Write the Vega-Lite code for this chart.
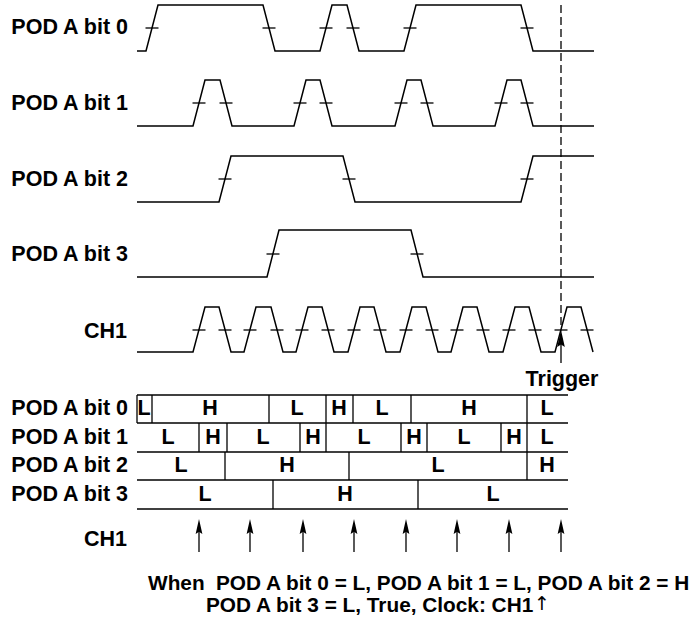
{
  "$schema": "https://vega.github.io/schema/vega-lite/v6.json",
  "width": 698,
  "height": 625,
  "padding": 0,
  "autosize": {"type": "none"},
  "background": "white",
  "config": {"view": {"stroke": null}},
  "datasets": {
    "waves": [
      {"sig": "b0", "t": 137, "v": 51}, {"sig": "b0", "t": 146, "v": 51}, {"sig": "b0", "t": 158, "v": 5}, {"sig": "b0", "t": 263, "v": 5}, {"sig": "b0", "t": 275, "v": 51}, {"sig": "b0", "t": 320, "v": 51}, {"sig": "b0", "t": 332, "v": 5}, {"sig": "b0", "t": 347, "v": 5}, {"sig": "b0", "t": 359, "v": 51}, {"sig": "b0", "t": 404, "v": 51}, {"sig": "b0", "t": 416, "v": 5}, {"sig": "b0", "t": 521, "v": 5}, {"sig": "b0", "t": 533, "v": 51}, {"sig": "b0", "t": 594, "v": 51},
      {"sig": "b1", "t": 137, "v": 126}, {"sig": "b1", "t": 193, "v": 126}, {"sig": "b1", "t": 205, "v": 80}, {"sig": "b1", "t": 220, "v": 80}, {"sig": "b1", "t": 232, "v": 126}, {"sig": "b1", "t": 294, "v": 126}, {"sig": "b1", "t": 306, "v": 80}, {"sig": "b1", "t": 320, "v": 80}, {"sig": "b1", "t": 332, "v": 126}, {"sig": "b1", "t": 395, "v": 126}, {"sig": "b1", "t": 407, "v": 80}, {"sig": "b1", "t": 421, "v": 80}, {"sig": "b1", "t": 433, "v": 126}, {"sig": "b1", "t": 495, "v": 126}, {"sig": "b1", "t": 507, "v": 80}, {"sig": "b1", "t": 521, "v": 80}, {"sig": "b1", "t": 533, "v": 126}, {"sig": "b1", "t": 594, "v": 126},
      {"sig": "b2", "t": 137, "v": 202}, {"sig": "b2", "t": 219, "v": 202}, {"sig": "b2", "t": 231, "v": 156}, {"sig": "b2", "t": 343, "v": 156}, {"sig": "b2", "t": 355, "v": 202}, {"sig": "b2", "t": 521, "v": 202}, {"sig": "b2", "t": 533, "v": 156}, {"sig": "b2", "t": 594, "v": 156},
      {"sig": "b3", "t": 137, "v": 277}, {"sig": "b3", "t": 267, "v": 277}, {"sig": "b3", "t": 279, "v": 230}, {"sig": "b3", "t": 411, "v": 230}, {"sig": "b3", "t": 423, "v": 277}, {"sig": "b3", "t": 594, "v": 277},
      {"sig": "ch", "t": 137, "v": 352}, {"sig": "ch", "t": 193, "v": 352}, {"sig": "ch", "t": 205, "v": 307}, {"sig": "ch", "t": 219, "v": 307}, {"sig": "ch", "t": 231, "v": 352}, {"sig": "ch", "t": 244, "v": 352}, {"sig": "ch", "t": 256, "v": 307}, {"sig": "ch", "t": 271, "v": 307}, {"sig": "ch", "t": 283, "v": 352}, {"sig": "ch", "t": 296, "v": 352}, {"sig": "ch", "t": 308, "v": 307}, {"sig": "ch", "t": 322, "v": 307}, {"sig": "ch", "t": 334, "v": 352}, {"sig": "ch", "t": 348, "v": 352}, {"sig": "ch", "t": 360, "v": 307}, {"sig": "ch", "t": 374, "v": 307}, {"sig": "ch", "t": 386, "v": 352}, {"sig": "ch", "t": 400, "v": 352}, {"sig": "ch", "t": 412, "v": 307}, {"sig": "ch", "t": 426, "v": 307}, {"sig": "ch", "t": 438, "v": 352}, {"sig": "ch", "t": 451, "v": 352}, {"sig": "ch", "t": 463, "v": 307}, {"sig": "ch", "t": 477, "v": 307}, {"sig": "ch", "t": 489, "v": 352}, {"sig": "ch", "t": 503, "v": 352}, {"sig": "ch", "t": 515, "v": 307}, {"sig": "ch", "t": 529, "v": 307}, {"sig": "ch", "t": 541, "v": 352}, {"sig": "ch", "t": 555, "v": 352}, {"sig": "ch", "t": 567, "v": 307}, {"sig": "ch", "t": 581, "v": 307}, {"sig": "ch", "t": 593, "v": 352}
    ],
    "ticks": [
      {"t": 152, "v": 28}, {"t": 269, "v": 28}, {"t": 326, "v": 28}, {"t": 353, "v": 28}, {"t": 410, "v": 28}, {"t": 527, "v": 28},
      {"t": 199, "v": 103}, {"t": 226, "v": 103}, {"t": 300, "v": 103}, {"t": 326, "v": 103}, {"t": 401, "v": 103}, {"t": 427, "v": 103}, {"t": 501, "v": 103}, {"t": 527, "v": 103},
      {"t": 225, "v": 179}, {"t": 349, "v": 179}, {"t": 527, "v": 179},
      {"t": 273, "v": 254}, {"t": 417, "v": 254},
      {"t": 199, "v": 330}, {"t": 225, "v": 330}, {"t": 250, "v": 330}, {"t": 277, "v": 330}, {"t": 302, "v": 330}, {"t": 328, "v": 330}, {"t": 354, "v": 330}, {"t": 380, "v": 330}, {"t": 406, "v": 330}, {"t": 432, "v": 330}, {"t": 457, "v": 330}, {"t": 483, "v": 330}, {"t": 509, "v": 330}, {"t": 535, "v": 330}, {"t": 561, "v": 330}, {"t": 587, "v": 330}
    ],
    "hlines": [
      {"x1": 137, "x2": 568, "y": 395}, {"x1": 137, "x2": 568, "y": 423}, {"x1": 137, "x2": 568, "y": 452}, {"x1": 137, "x2": 568, "y": 480}, {"x1": 137, "x2": 568, "y": 509}
    ],
    "vlines": [
      {"x": 137, "y1": 395, "y2": 423}, {"x": 152, "y1": 395, "y2": 423}, {"x": 269, "y1": 395, "y2": 423}, {"x": 326, "y1": 395, "y2": 423}, {"x": 353, "y1": 395, "y2": 423}, {"x": 411, "y1": 395, "y2": 423}, {"x": 527, "y1": 395, "y2": 423},
      {"x": 199, "y1": 423, "y2": 452}, {"x": 227, "y1": 423, "y2": 452}, {"x": 300, "y1": 423, "y2": 452}, {"x": 326, "y1": 423, "y2": 452}, {"x": 401, "y1": 423, "y2": 452}, {"x": 427, "y1": 423, "y2": 452}, {"x": 501, "y1": 423, "y2": 452}, {"x": 527, "y1": 423, "y2": 452},
      {"x": 225, "y1": 452, "y2": 480}, {"x": 349, "y1": 452, "y2": 480}, {"x": 527, "y1": 452, "y2": 480},
      {"x": 273, "y1": 480, "y2": 509}, {"x": 418, "y1": 480, "y2": 509}
    ],
    "cells": [
      {"x": 144, "y": 409, "s": "L"}, {"x": 210, "y": 409, "s": "H"}, {"x": 297, "y": 409, "s": "L"}, {"x": 339, "y": 409, "s": "H"}, {"x": 382, "y": 409, "s": "L"}, {"x": 469, "y": 409, "s": "H"}, {"x": 547, "y": 409, "s": "L"},
      {"x": 168, "y": 437.5, "s": "L"}, {"x": 213, "y": 437.5, "s": "H"}, {"x": 263, "y": 437.5, "s": "L"}, {"x": 313, "y": 437.5, "s": "H"}, {"x": 364, "y": 437.5, "s": "L"}, {"x": 414, "y": 437.5, "s": "H"}, {"x": 464, "y": 437.5, "s": "L"}, {"x": 514, "y": 437.5, "s": "H"}, {"x": 547, "y": 437.5, "s": "L"},
      {"x": 181, "y": 466, "s": "L"}, {"x": 287, "y": 466, "s": "H"}, {"x": 438, "y": 466, "s": "L"}, {"x": 547, "y": 466, "s": "H"},
      {"x": 205, "y": 494.5, "s": "L"}, {"x": 345, "y": 494.5, "s": "H"}, {"x": 493, "y": 494.5, "s": "L"},
      {"x": 562, "y": 380, "s": "Trigger"}
    ],
    "labels": [
      {"x": 128, "y": 28, "s": "POD A bit 0"}, {"x": 128, "y": 104, "s": "POD A bit 1"}, {"x": 128, "y": 180, "s": "POD A bit 2"}, {"x": 128, "y": 255, "s": "POD A bit 3"}, {"x": 127, "y": 332, "s": "CH1"},
      {"x": 128, "y": 409, "s": "POD A bit 0"}, {"x": 128, "y": 437.5, "s": "POD A bit 1"}, {"x": 128, "y": 466, "s": "POD A bit 2"}, {"x": 128, "y": 494.5, "s": "POD A bit 3"}, {"x": 127, "y": 540, "s": "CH1"}
    ],
    "notes": [
      {"x": 148, "y": 584, "s": "When"},
      {"x": 216, "y": 584, "s": "POD A bit 0 = L, POD A bit 1 = L, POD A bit 2 = H"},
      {"x": 206, "y": 606, "s": "POD A bit 3 = L, True, Clock: CH1"}
    ],
    "uparrow": [{"x": 534, "y": 604, "s": "↑"}],
    "trigdash": [{"x": 561, "y1": 5, "y2": 327}],
    "trigstem": [{"x": 561, "y1": 338, "y2": 363}],
    "trighead": [{"x": 561, "y": 338.5}],
    "clk": [
      {"x": 199, "y1": 526, "y2": 552, "yh": 526.5}, {"x": 250, "y1": 526, "y2": 552, "yh": 526.5}, {"x": 303, "y1": 526, "y2": 552, "yh": 526.5}, {"x": 354, "y1": 526, "y2": 552, "yh": 526.5}, {"x": 406, "y1": 526, "y2": 552, "yh": 526.5}, {"x": 457, "y1": 526, "y2": 552, "yh": 526.5}, {"x": 509, "y1": 526, "y2": 552, "yh": 526.5}, {"x": 561, "y1": 526, "y2": 552, "yh": 526.5}
    ]
  },
  "layer": [
    {
      "data": {"name": "waves"},
      "mark": {"type": "line", "color": "black", "strokeWidth": 1.5},
      "encoding": {
        "x": {"field": "t", "type": "quantitative", "scale": {"domain": [0, 698], "nice": false, "zero": false}, "axis": null},
        "y": {"field": "v", "type": "quantitative", "scale": {"domain": [0, 625], "nice": false, "zero": false, "reverse": true}, "axis": null},
        "detail": {"field": "sig"}
      }
    },
    {
      "data": {"name": "ticks"},
      "mark": {"type": "tick", "orient": "horizontal", "color": "black", "size": 13, "thickness": 1.3, "opacity": 1},
      "encoding": {
        "x": {"field": "t", "type": "quantitative", "axis": null},
        "y": {"field": "v", "type": "quantitative", "axis": null}
      }
    },
    {
      "data": {"name": "hlines"},
      "mark": {"type": "rule", "color": "black", "strokeWidth": 1.5},
      "encoding": {
        "x": {"field": "x1", "type": "quantitative", "axis": null},
        "x2": {"field": "x2"},
        "y": {"field": "y", "type": "quantitative", "axis": null}
      }
    },
    {
      "data": {"name": "vlines"},
      "mark": {"type": "rule", "color": "black", "strokeWidth": 1.3},
      "encoding": {
        "x": {"field": "x", "type": "quantitative", "axis": null},
        "y": {"field": "y1", "type": "quantitative", "axis": null},
        "y2": {"field": "y2"}
      }
    },
    {
      "data": {"name": "trigdash"},
      "mark": {"type": "rule", "color": "black", "strokeWidth": 1.3, "strokeDash": [8, 4]},
      "encoding": {
        "x": {"field": "x", "type": "quantitative", "axis": null},
        "y": {"field": "y1", "type": "quantitative", "axis": null},
        "y2": {"field": "y2"}
      }
    },
    {
      "data": {"name": "trigstem"},
      "mark": {"type": "rule", "color": "black", "strokeWidth": 1.3},
      "encoding": {
        "x": {"field": "x", "type": "quantitative", "axis": null},
        "y": {"field": "y1", "type": "quantitative", "axis": null},
        "y2": {"field": "y2"}
      }
    },
    {
      "data": {"name": "trighead"},
      "mark": {"type": "point", "shape": "M0,-1L0.45,1L0,0.7L-0.45,1Z", "filled": true, "color": "black", "opacity": 1, "size": 289, "strokeWidth": 0},
      "encoding": {
        "x": {"field": "x", "type": "quantitative", "axis": null},
        "y": {"field": "y", "type": "quantitative", "axis": null}
      }
    },
    {
      "data": {"name": "clk"},
      "mark": {"type": "rule", "color": "black", "strokeWidth": 1.3},
      "encoding": {
        "x": {"field": "x", "type": "quantitative", "axis": null},
        "y": {"field": "y1", "type": "quantitative", "axis": null},
        "y2": {"field": "y2"}
      }
    },
    {
      "data": {"name": "clk"},
      "mark": {"type": "point", "shape": "M0,-1L0.45,1L0,0.7L-0.45,1Z", "filled": true, "color": "black", "opacity": 1, "size": 225, "strokeWidth": 0},
      "encoding": {
        "x": {"field": "x", "type": "quantitative", "axis": null},
        "y": {"field": "yh", "type": "quantitative", "axis": null}
      }
    },
    {
      "data": {"name": "cells"},
      "mark": {"type": "text", "font": "Liberation Sans", "fontWeight": "bold", "fontSize": 21.5, "align": "center", "baseline": "middle", "color": "black"},
      "encoding": {
        "x": {"field": "x", "type": "quantitative", "axis": null},
        "y": {"field": "y", "type": "quantitative", "axis": null},
        "text": {"field": "s"}
      }
    },
    {
      "data": {"name": "labels"},
      "mark": {"type": "text", "font": "Liberation Sans", "fontWeight": "bold", "fontSize": 21.5, "align": "right", "baseline": "middle", "color": "black"},
      "encoding": {
        "x": {"field": "x", "type": "quantitative", "axis": null},
        "y": {"field": "y", "type": "quantitative", "axis": null},
        "text": {"field": "s"}
      }
    },
    {
      "data": {"name": "notes"},
      "mark": {"type": "text", "font": "Liberation Sans", "fontWeight": "bold", "fontSize": 20.8, "align": "left", "baseline": "middle", "color": "black"},
      "encoding": {
        "x": {"field": "x", "type": "quantitative", "axis": null},
        "y": {"field": "y", "type": "quantitative", "axis": null},
        "text": {"field": "s"}
      }
    },
    {
      "data": {"name": "uparrow"},
      "mark": {"type": "text", "font": "DejaVu Sans", "fontWeight": "normal", "fontSize": 19, "align": "left", "baseline": "middle", "color": "black"},
      "encoding": {
        "x": {"field": "x", "type": "quantitative", "axis": null},
        "y": {"field": "y", "type": "quantitative", "axis": null},
        "text": {"field": "s"}
      }
    }
  ]
}
